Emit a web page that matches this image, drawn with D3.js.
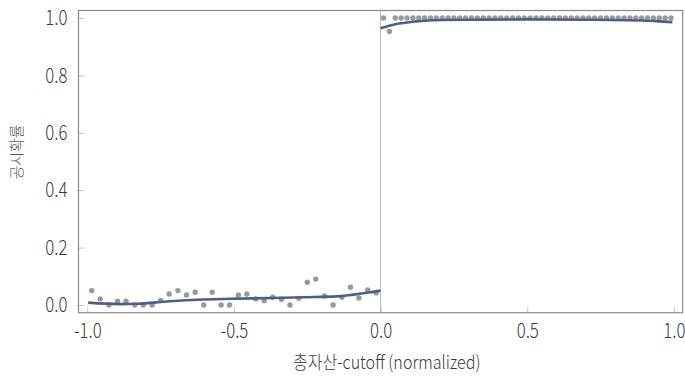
<!DOCTYPE html>
<html>
<head>
<meta charset="utf-8">
<script src="https://cdn.jsdelivr.net/npm/d3@7"></script>
<style>
  html, body { margin: 0; padding: 0; background: #fff; }
  svg { display: block; }
  text { font-family: "Noto Sans CJK KR", "Noto Sans", sans-serif; }
</style>
</head>
<body>
<svg id="chart" width="685" height="378"></svg>
<script>
// Binned means of the disclosure indicator, below the cutoff
const leftBinX = [-0.985, -0.956, -0.926, -0.897, -0.868, -0.838, -0.809, -0.779, -0.750, -0.721,
                  -0.691, -0.662, -0.632, -0.603, -0.574, -0.544, -0.515, -0.485, -0.456, -0.426,
                  -0.397, -0.368, -0.338, -0.309, -0.279, -0.250, -0.221, -0.191, -0.162, -0.132,
                  -0.103, -0.074, -0.044, -0.015];
const leftBinY = [0.050, 0.021, 0.000, 0.013, 0.013, 0.000, 0.000, 0.000, 0.016, 0.038,
                  0.050, 0.035, 0.044, 0.000, 0.044, 0.000, 0.000, 0.035, 0.038, 0.021,
                  0.015, 0.027, 0.020, 0.000, 0.023, 0.079, 0.090, 0.031, 0.000, 0.027,
                  0.062, 0.024, 0.052, 0.042];

// Binned means above the cutoff
const rightBinX = [0.01, 0.03, 0.05, 0.07, 0.09, 0.11, 0.13, 0.15, 0.17, 0.19,
                   0.21, 0.23, 0.25, 0.27, 0.29, 0.31, 0.33, 0.35, 0.37, 0.39,
                   0.41, 0.43, 0.45, 0.47, 0.49, 0.51, 0.53, 0.55, 0.57, 0.59,
                   0.61, 0.63, 0.65, 0.67, 0.69, 0.71, 0.73, 0.75, 0.77, 0.79,
                   0.81, 0.83, 0.85, 0.87, 0.89, 0.91, 0.93, 0.95, 0.97, 0.99];
const rightBinY = [1.000, 0.953, 1.000, 1.000, 1.000, 1.000, 1.000, 1.000, 1.000, 1.000,
                   1.000, 1.000, 1.000, 1.000, 1.000, 1.000, 1.000, 1.000, 1.000, 1.000,
                   1.000, 1.000, 1.000, 1.000, 1.000, 1.000, 1.000, 1.000, 1.000, 1.000,
                   1.000, 1.000, 1.000, 1.000, 1.000, 1.000, 1.000, 1.000, 1.000, 1.000,
                   1.000, 1.000, 1.000, 1.000, 1.000, 1.000, 1.000, 1.000, 1.000, 1.000];

// Fitted polynomial on each side of the cutoff
const leftFitX = [-0.997, -0.889, -0.832, -0.719, -0.605, -0.491, -0.377, -0.264, -0.150, -0.093, -0.036, 0.0];
const leftFitY = [0.008, 0.003, 0.004, 0.013, 0.019, 0.022, 0.024, 0.027, 0.030, 0.036, 0.044, 0.050];
const rightFitX = [0.0, 0.05, 0.12, 0.21, 0.32, 0.50, 0.70, 0.89, 0.94, 0.995];
const rightFitY = [0.964, 0.978, 0.988, 0.993, 0.994, 0.995, 0.994, 0.991, 0.989, 0.985];

const xTicks = [-1.0, -0.5, 0.0, 0.5, 1.0];
const yTicks = [0.0, 0.2, 0.4, 0.6, 0.8, 1.0];
const xTitle = "총자산-cutoff (normalized)";
const yTitle = "공시확률";

const width = 685, height = 378;
const margin = { top: 10.5, right: 2.3, bottom: 65.3, left: 78.5 };
const squeeze = 0.8; // horizontal compression of the label face

const svg = d3.select("#chart");
const x = d3.scaleLinear().domain([-1.03, 1.03]).range([margin.left, width - margin.right]);
const y = d3.scaleLinear().domain([-0.027, 1.026]).range([height - margin.bottom, margin.top]);

// one decimal, plain hyphen for negatives
const fmt = d => d3.format(".1f")(d).replace("\u2212", "-");

// axes: ticks point into the plot area
const xAxis = d3.axisBottom(x).tickValues(xTicks).tickFormat(fmt)
  .tickSizeInner(-6).tickSizeOuter(0).tickPadding(10);
const yAxis = d3.axisLeft(y).tickValues(yTicks).tickFormat(fmt)
  .tickSizeInner(-6).tickSizeOuter(0).tickPadding(11);

const gx = svg.append("g").attr("transform", `translate(0,${height - margin.bottom})`).call(xAxis);
const gy = svg.append("g").attr("transform", `translate(${margin.left},0)`).call(yAxis);

[gx, gy].forEach(g => {
  g.select(".domain").remove();
  g.selectAll(".tick line").attr("stroke", "#c4c4c4").attr("stroke-width", 1);
  g.selectAll(".tick text")
    .attr("fill", "#3a3a3a")
    .attr("font-size", 21)
    .attr("font-weight", 300)
    .attr("font-family", '"Noto Sans CJK KR", "Noto Sans", sans-serif');
});
gx.selectAll(".tick text").attr("transform", `scale(${squeeze},1)`).attr("x", 0);
gy.selectAll(".tick text").attr("transform", `scale(${squeeze},1)`).attr("x", -11 / squeeze);

// cutoff line
svg.append("line")
  .attr("x1", x(0)).attr("x2", x(0))
  .attr("y1", margin.top).attr("y2", height - margin.bottom)
  .attr("stroke", "#b5b5b5").attr("stroke-width", 1);

// plot frame
svg.append("rect")
  .attr("x", margin.left).attr("y", margin.top)
  .attr("width", width - margin.left - margin.right)
  .attr("height", height - margin.top - margin.bottom)
  .attr("fill", "none").attr("stroke", "#8a8a8a").attr("stroke-width", 1.2);

// bin means
const pts = d3.zip(leftBinX, leftBinY).concat(d3.zip(rightBinX, rightBinY));
svg.append("g").selectAll("circle").data(pts).join("circle")
  .attr("cx", d => x(d[0])).attr("cy", d => y(d[1])).attr("r", 2.7)
  .attr("fill", "#999999");

// fitted curves
const line = d3.line().x(d => x(d[0])).y(d => y(d[1])).curve(d3.curveMonotoneX);
[d3.zip(leftFitX, leftFitY), d3.zip(rightFitX, rightFitY)].forEach(seg => {
  svg.append("path").attr("d", line(seg))
    .attr("fill", "none").attr("stroke", "#4b5f8e").attr("stroke-width", 2.6)
    .attr("stroke-linecap", "butt");
});

// axis titles
svg.append("text")
  .attr("transform", `translate(386.7,369) scale(0.87,1)`)
  .attr("text-anchor", "middle").attr("font-size", 18.5).attr("font-weight", 300).attr("fill", "#3a3a3a")
  .text(xTitle);
svg.append("text")
  .attr("transform", `translate(22,152) rotate(-90)`)
  .attr("text-anchor", "middle").attr("font-size", 15).attr("font-weight", 300).attr("fill", "#555")
  .text(yTitle);
</script>
</body>
</html>
